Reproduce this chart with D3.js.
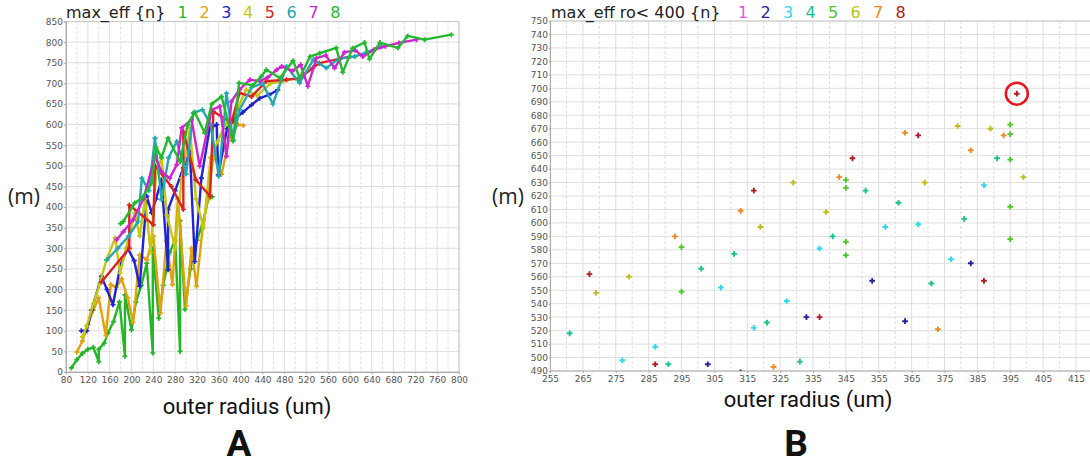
<!DOCTYPE html>
<html>
<head>
<meta charset="utf-8">
<script src="https://cdn.jsdelivr.net/npm/d3@7"></script>
<style>
  body { margin: 0; background: #fff; }
  svg { display: block; }
  .tick text { font-family: "DejaVu Sans", sans-serif; font-size: 9px; fill: #555; }
  .title { font-family: "DejaVu Sans", sans-serif; font-size: 16px; fill: #222; }
  .unit { font-family: "Open Sans", "Noto Sans", sans-serif; font-size: 21px; fill: #222; }
  .xlab { font-family: "Liberation Sans Narrow", "Roboto", sans-serif; font-size: 22px; fill: #111; }
  .panel { font-family: "Liberation Sans Narrow", "Roboto", sans-serif; font-size: 37px; font-weight: bold; fill: #111; }
</style>
</head>
<body>
<svg id="chart" width="1090" height="467"></svg>
<script>
// ---------- panel A : max_eff per n, lines ----------
var nLabels = ['1', '2', '3', '4', '5', '6', '7', '8'];
var colorsA = ['#26b526', '#e0a20a', '#2222d4', '#c6c612', '#dc2222', '#22a8ae', '#cc26cc', '#24b830'];

var effA1 = [[90,10],[100,30],[110,45],[120,55],[130,60],[140,25],[140,55],[150,70],[157,95],[167,122],[178,170],[188,38],[188,187],[200,102],[208,170],[218,210],[228,264],[239,46],[239,300],[250,130],[258,210],[270,290],[280,320],[289,50],[289,367],[298,152],[308,250],[320,320],[332,368],[340,418],[348,425]];
var effA2 = [[100,48],[110,75],[120,115],[130,150],[140,180],[153,88],[162,212],[172,205],[182,226],[193,180],[203,120],[215,284],[228,272],[240,330],[253,143],[264,317],[275,212],[285,420],[300,160],[310,300],[319,208],[331,357],[340,420],[350,525],[365,480],[380,570],[395,600],[405,598]];
var effA3 = [[108,100],[118,100],[127,150],[145,232],[155,200],[166,163],[180,260],[193,300],[205,270],[215,208],[228,426],[237,386],[245,420],[255,466],[267,248],[267,394],[280,440],[295,495],[307,535],[316,268],[328,470],[343,590],[356,600],[359,478],[375,590],[390,615],[404,630],[420,648],[435,664],[452,672],[468,684]];
var effA4 = [[110,85],[118,111],[130,165],[142,215],[154,272],[170,325],[179,240],[190,300],[206,386],[215,330],[225,420],[235,290],[245,480],[255,519],[265,380],[280,300],[292,470],[307,592],[318,420],[332,350],[345,520],[358,560],[372,600],[390,625],[410,685],[430,670],[455,700],[478,705],[500,712]];
var effA5 = [[145,218],[196,300],[196,405],[240,357],[243,500],[273,450],[295,394],[295,583],[318,466],[344,426],[350,632],[383,604],[398,677],[420,668],[447,705],[484,709],[508,712],[532,737],[544,749],[600,765]];
var effA6 = [[155,272],[175,300],[195,330],[212,365],[219,470],[232,440],[243,567],[255,418],[268,520],[283,559],[300,480],[313,628],[330,636],[345,600],[360,475],[374,676],[386,563],[398,636],[420,690],[440,700],[459,650],[484,741],[508,701],[533,757],[557,737],[580,760],[609,765],[630,775],[658,790]];
var effA7 = [[173,321],[185,340],[203,369],[222,420],[243,523],[255,486],[270,470],[283,503],[292,592],[310,612],[325,499],[347,636],[362,644],[374,523],[383,656],[398,685],[417,709],[435,705],[450,715],[466,733],[475,741],[495,730],[510,745],[523,693],[539,761],[556,768],[572,737],[590,775],[610,780],[624,765],[645,782],[665,790],[690,798],[722,806]];
var effA8 = [[180,360],[185,365],[206,410],[219,422],[237,458],[245,545],[255,520],[267,567],[289,510],[303,600],[316,630],[334,580],[347,650],[365,668],[386,560],[397,701],[422,695],[438,717],[447,733],[472,713],[496,755],[508,713],[527,765],[545,773],[575,786],[587,727],[605,785],[627,799],[636,759],[655,799],[688,786],[706,815],[737,806],[786,818]];
var seriesA = [effA1, effA2, effA3, effA4, effA5, effA6, effA7, effA8];

var xTicksA = d3.range(80, 801, 40);
var yTicksA = d3.range(0, 851, 50);

// ---------- panel B : max_eff ro< 400, points ----------
var colorsB = ['#ee4fdc', '#24249c', '#2ed8ee', '#18c28a', '#4cc626', '#bebe22', '#ee8a26', '#b01c26'];
var effB1 = [];
var effB2 = [[303,495],[313,489],[333,530],[353,557],[363,527],[383,570]];
var effB3 = [[277,498],[287,508],[307,552],[317,522],[327,542],[337,581],[357,597],[367,599],[377,573],[387,628]];
var effB4 = [[261,518],[291,495],[301,566],[311,577],[321,526],[331,497],[341,590],[351,624],[361,615],[371,555],[381,603],[391,648]];
var effB5 = [[295,582],[295,549],[345,632],[345,626],[345,586],[345,576],[395,673],[395,666],[395,647],[395,612],[395,588]];
var effB6 = [[269,548],[279,560],[319,597],[329,630],[339,608],[369,630],[379,672],[389,670],[399,634]];
var effB7 = [[293,590],[313,609],[323,493],[343,634],[363,667],[373,521],[383,654],[393,665]];
var effB8 = [[267,562],[287,495],[317,624],[337,530],[347,648],[367,665],[387,557],[397,696]];
var seriesB = [effB1, effB2, effB3, effB4, effB5, effB6, effB7, effB8];
var circledB = [397, 696];

var xTicksB = d3.range(255, 416, 10);
var yTicksB = d3.range(490, 751, 10);

(function () {
  var svg = d3.select('#chart');

  //////////////////////
  // PANEL A
  //
  var xA = d3.scaleLinear().domain([80, 800]).range([66, 459]),
    yA = d3.scaleLinear().domain([0, 850]).range([372, 21.5]);

  var gA = svg.append('g');

  // grid (minor every 20 in x)
  gA.append('g').selectAll('line')
    .data(d3.range(80, 801, 20))
    .enter().append('line')
    .attr('x1', d => xA(d)).attr('x2', d => xA(d))
    .attr('y1', yA(850)).attr('y2', yA(0))
    .attr('stroke', '#dedede')
    .attr('stroke-dasharray', d => (d % 40 === 0) ? null : '3,2');
  gA.append('g').selectAll('line')
    .data(yTicksA)
    .enter().append('line')
    .attr('x1', xA(80)).attr('x2', xA(800))
    .attr('y1', d => yA(d)).attr('y2', d => yA(d))
    .attr('stroke', '#dedede');

  gA.append('rect')
    .attr('x', xA(80)).attr('y', yA(850))
    .attr('width', xA(800) - xA(80)).attr('height', yA(0) - yA(850))
    .attr('fill', 'none').attr('stroke', '#c8c8c8');

  var axA_x = gA.append('g')
    .attr('transform', 'translate(0,' + yA(0) + ')')
    .call(d3.axisBottom(xA).tickValues(xTicksA).tickSize(2).tickPadding(3));
  var axA_y = gA.append('g')
    .attr('transform', 'translate(' + xA(80) + ',0)')
    .call(d3.axisLeft(yA).tickValues(yTicksA).tickSize(2).tickPadding(1));
  [axA_x, axA_y].forEach(function (ax) {
    ax.select('.domain').attr('stroke', '#aaa');
    ax.selectAll('.tick line').attr('stroke', '#aaa');
  });

  var lineA = d3.line().x(d => xA(d[0])).y(d => yA(d[1]));
  var cross = d3.symbol().type(d3.symbolCross).size(14);

  seriesA.forEach(function (s, i) {
    var g = gA.append('g');
    g.append('path')
      .attr('d', lineA(s))
      .attr('fill', 'none')
      .attr('stroke', colorsA[i])
      .attr('stroke-width', 2.4)
      .attr('stroke-linejoin', 'round');
    g.selectAll('path.mk')
      .data(s)
      .enter().append('path')
      .attr('class', 'mk')
      .attr('d', cross)
      .attr('transform', d => 'translate(' + xA(d[0]) + ',' + yA(d[1]) + ')')
      .attr('fill', colorsA[i]);
  });

  // title + legend
  gA.append('text').attr('class', 'title')
    .attr('x', 66).attr('y', 18).text('max_eff {n}');
  gA.selectAll('text.leg')
    .data(nLabels)
    .enter().append('text')
    .attr('class', 'title leg')
    .attr('x', (d, i) => 182.7 + i * 21.8)
    .attr('y', 18)
    .attr('text-anchor', 'middle')
    .style('fill', (d, i) => colorsA[i])
    .text(d => d);

  gA.append('text').attr('class', 'unit')
    .attr('x', 24).attr('y', 204).attr('text-anchor', 'middle').text('(m)');
  gA.append('text').attr('class', 'xlab')
    .attr('x', 247).attr('y', 414).attr('text-anchor', 'middle').text('outer radius (um)');
  gA.append('text').attr('class', 'panel')
    .attr('x', 239).attr('y', 456).attr('text-anchor', 'middle').text('A');

  //////////////////////
  // PANEL B
  //
  var xB = d3.scaleLinear().domain([255, 415]).range([550, 1076]),
    yB = d3.scaleLinear().domain([490, 750]).range([371, 21]);

  var gB = svg.append('g');

  gB.append('g').selectAll('line')
    .data(d3.range(255, 421, 5))
    .enter().append('line')
    .attr('x1', d => xB(d)).attr('x2', d => xB(d))
    .attr('y1', yB(750)).attr('y2', yB(490))
    .attr('stroke', '#dedede')
    .attr('stroke-dasharray', d => ((d - 255) % 10 === 0) ? null : '3,2');
  gB.append('g').selectAll('line')
    .data(yTicksB)
    .enter().append('line')
    .attr('x1', xB(255)).attr('x2', 1090)
    .attr('y1', d => yB(d)).attr('y2', d => yB(d))
    .attr('stroke', '#dedede');

  gB.append('line')
    .attr('x1', xB(255)).attr('x2', 1090)
    .attr('y1', yB(750)).attr('y2', yB(750))
    .attr('stroke', '#c8c8c8');

  var axB_x = gB.append('g')
    .attr('transform', 'translate(0,' + yB(490) + ')')
    .call(d3.axisBottom(xB).tickValues(xTicksB).tickSize(2).tickPadding(3));
  var axB_y = gB.append('g')
    .attr('transform', 'translate(' + xB(255) + ',0)')
    .call(d3.axisLeft(yB).tickValues(yTicksB).tickSize(1).tickPadding(1));
  axB_x.select('.domain').attr('d', 'M' + xB(255) + ',0H1090');
  [axB_x, axB_y].forEach(function (ax) {
    ax.select('.domain').attr('stroke', '#aaa');
    ax.selectAll('.tick line').attr('stroke', '#aaa');
  });

  svg.append('clipPath').attr('id', 'clipB')
    .append('rect')
    .attr('x', xB(255)).attr('y', yB(750))
    .attr('width', 1090 - xB(255)).attr('height', yB(490) - yB(750));

  var plotB = gB.append('g').attr('clip-path', 'url(#clipB)');
  var crossB = d3.symbol().type(d3.symbolCross).size(18);
  seriesB.forEach(function (s, i) {
    plotB.selectAll(null)
      .data(s)
      .enter().append('path')
      .attr('d', crossB)
      .attr('transform', d => 'translate(' + xB(d[0]) + ',' + yB(d[1]) + ')')
      .attr('fill', colorsB[i]);
  });

  gB.append('circle')
    .attr('cx', xB(circledB[0])).attr('cy', yB(circledB[1]))
    .attr('r', 11)
    .attr('fill', 'none')
    .attr('stroke', '#e8141c')
    .attr('stroke-width', 2.5);

  gB.append('text').attr('class', 'title')
    .attr('x', 551).attr('y', 18).text('max_eff ro< 400 {n}');
  gB.selectAll('text.leg')
    .data(nLabels)
    .enter().append('text')
    .attr('class', 'title leg')
    .attr('x', (d, i) => 743 + i * 22.5)
    .attr('y', 18)
    .attr('text-anchor', 'middle')
    .style('fill', (d, i) => colorsB[i])
    .text(d => d);

  gB.append('text').attr('class', 'unit')
    .attr('x', 508).attr('y', 204).attr('text-anchor', 'middle').text('(m)');
  gB.append('text').attr('class', 'xlab')
    .attr('x', 808).attr('y', 407).attr('text-anchor', 'middle').text('outer radius (um)');
  gB.append('text').attr('class', 'panel')
    .attr('x', 796).attr('y', 456).attr('text-anchor', 'middle').text('B');
}());
</script>
</body>
</html>
